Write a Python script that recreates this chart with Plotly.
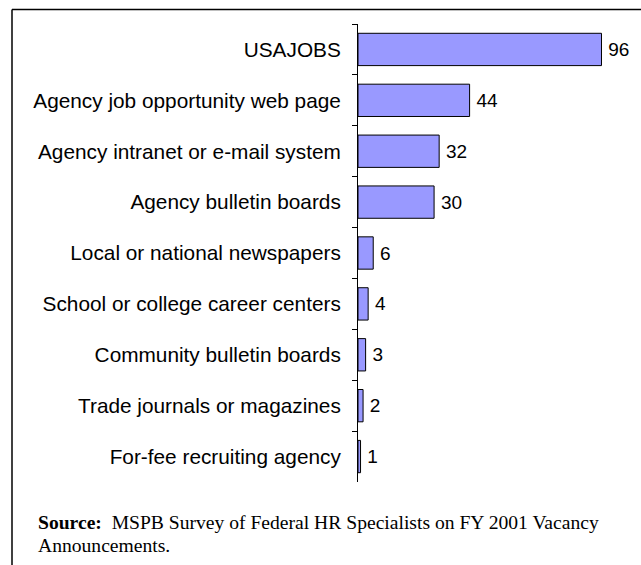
import plotly.graph_objects as go

categories = [
    "USAJOBS",
    "Agency job opportunity web page",
    "Agency intranet or e-mail system",
    "Agency bulletin boards",
    "Local or national newspapers",
    "School or college career centers",
    "Community bulletin boards",
    "Trade journals or magazines",
    "For-fee recruiting agency",
]
values = [96, 44, 32, 30, 6, 4, 3, 2, 1]
source_line1 = "<b>Source:</b>  MSPB Survey of Federal HR Specialists on FY 2001 Vacancy"
source_line2 = "Announcements."

W, H = 641, 565
L, R, T, B = 358, 4, 24, 83
pw, ph = W - L - R, H - T - B


def px(x):
    return (x - L) / pw


def py(y):
    return (H - B - y) / ph


fig = go.Figure(
    go.Bar(
        x=values,
        y=categories,
        orientation="h",
        marker=dict(color="#9999FF", line=dict(color="#000000", width=1)),
        text=["\u2009" + str(v) for v in values],
        textposition="outside",
        textfont=dict(family="Liberation Sans, Arial", size=19, color="#000"),
        cliponaxis=False,
        width=0.635,
    )
)

fig.update_layout(
    width=W,
    height=H,
    margin=dict(l=L, r=R, t=T, b=B, autoexpand=False),
    paper_bgcolor="white",
    plot_bgcolor="white",
    showlegend=False,
    xaxis=dict(range=[0, 110], visible=False, fixedrange=True),
    yaxis=dict(
        autorange="reversed",
        showline=True,
        linecolor="#000",
        linewidth=1,
        ticks="outside",
        ticklen=5,
        tickcolor="#000",
        tickson="boundaries",
        ticklabelstandoff=12,
        tickfont=dict(family="Liberation Sans, Arial", size=20.8, color="#000"),
        showgrid=False,
        zeroline=False,
        fixedrange=True,
    ),
    shapes=[
        dict(type="line", xref="paper", yref="paper", x0=px(12), x1=px(641), y0=py(9.5), y1=py(9.5),
             line=dict(color="#000", width=1.5)),
        dict(type="line", xref="paper", yref="paper", x0=px(12), x1=px(12), y0=py(9.5), y1=py(565),
             line=dict(color="#000", width=1.5)),
    ],
    annotations=[
        dict(text=source_line1, xref="paper", yref="paper", x=px(36), y=py(522), xanchor="left",
             yanchor="middle", showarrow=False,
             font=dict(family="Liberation Serif, serif", size=19.6, color="#000")),
        dict(text=source_line2, xref="paper", yref="paper", x=px(36), y=py(545), xanchor="left",
             yanchor="middle", showarrow=False,
             font=dict(family="Liberation Serif, serif", size=19.6, color="#000")),
    ],
)

fig.write_html(
    "out.html",
    config={"displayModeBar": False},
    post_script="document.body.style.margin='0';document.body.style.overflow='hidden';",
)
